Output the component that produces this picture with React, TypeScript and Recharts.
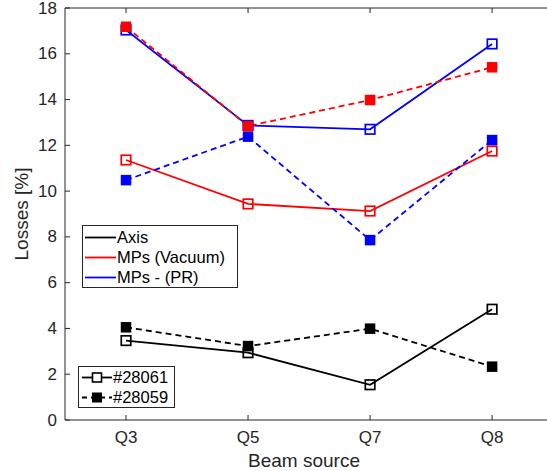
import React from 'react';
import { LineChart, Line, XAxis, YAxis, ReferenceLine } from 'recharts';

// Beam source positions along the x axis
const categories = ['Q3', 'Q5', 'Q7', 'Q8'];
const positions = [1, 2, 3, 4];
const yTicks = [0, 2, 4, 6, 8, 10, 12, 14, 16, 18];

// Losses [%], shot #28061 (solid, open squares) and #28059 (dashed, filled squares)
const axis28061 = [3.47, 2.94, 1.54, 4.84];
const axis28059 = [4.05, 3.23, 3.99, 2.33];
const vacuum28061 = [11.36, 9.44, 9.13, 11.75];
const vacuum28059 = [17.18, 12.84, 13.98, 15.41];
const pr28061 = [17.04, 12.87, 12.7, 16.43];
const pr28059 = [10.48, 12.38, 7.86, 12.23];

const data = positions.map((x, i) => ({
  x,
  axis28061: axis28061[i],
  axis28059: axis28059[i],
  vacuum28061: vacuum28061[i],
  vacuum28059: vacuum28059[i],
  pr28061: pr28061[i],
  pr28059: pr28059[i],
}));

const W = 547;
const H = 471;
const PLOT_LEFT = 65;
const PLOT_TOP = 8;
const PLOT_BOTTOM = 420;
const INK = '#262626';
const FONT = '"Liberation Sans", Arial, Helvetica, sans-serif';
const TICK_LEN = 5;
const LW = 1.8;

const square = (color: string, filled: boolean) => (props: any) => {
  const { cx, cy, index } = props;
  if (cx == null || cy == null) return null;
  const s = filled ? 10.5 : 9.5;
  return (
    <rect
      key={index}
      x={cx - s / 2}
      y={cy - s / 2}
      width={s}
      height={s}
      fill={filled ? color : 'none'}
      stroke={color}
      strokeWidth={filled ? 0 : 1.7}
    />
  );
};

const XTick = ({ x, payload }: any) => (
  <g>
    <line x1={x} x2={x} y1={PLOT_BOTTOM} y2={PLOT_BOTTOM - TICK_LEN} stroke={INK} />
    <line x1={x} x2={x} y1={PLOT_TOP} y2={PLOT_TOP + TICK_LEN} stroke={INK} />
    <text x={x} y={437} textAnchor="middle" dominantBaseline="central" fill={INK} fontSize={17} fontFamily={FONT}>
      {categories[payload.value - 1]}
    </text>
  </g>
);

const YTick = ({ y, payload }: any) => (
  <g>
    <line x1={PLOT_LEFT} x2={PLOT_LEFT + TICK_LEN} y1={y} y2={y} stroke={INK} />
    <text x={57} y={y} textAnchor="end" dominantBaseline="central" fill={INK} fontSize={17} fontFamily={FONT}>
      {payload.value}
    </text>
  </g>
);

const legendText: React.CSSProperties = {
  fontFamily: FONT,
  fontSize: 16.5,
  color: '#000',
  lineHeight: '20px',
  whiteSpace: 'nowrap',
};

const SeriesLegend = () => {
  const rows = [
    { label: 'Axis', color: '#000' },
    { label: 'MPs (Vacuum)', color: '#ff0000' },
    { label: 'MPs - (PR)', color: '#0000ff' },
  ];
  return (
    <div
      style={{
        position: 'absolute',
        left: 82,
        top: 225,
        width: 156,
        height: 63,
        boxSizing: 'border-box',
        border: `1px solid ${INK}`,
        background: '#fff',
        paddingTop: 1,
      }}
    >
      {rows.map((r) => (
        <div key={r.label} style={{ display: 'flex', alignItems: 'center', height: 20, ...legendText }}>
          <svg width={34} height={20} style={{ flex: 'none' }}>
            <line x1={2} x2={33} y1={10.5} y2={10.5} stroke={r.color} strokeWidth={LW} />
          </svg>
          <span>{r.label}</span>
        </div>
      ))}
    </div>
  );
};

const ShotLegend = () => {
  const rows = [
    { label: '#28061', dash: undefined, filled: false },
    { label: '#28059', dash: '5 4', filled: true },
  ];
  return (
    <div
      style={{
        position: 'absolute',
        left: 78,
        top: 366,
        width: 97,
        height: 42,
        boxSizing: 'border-box',
        border: `1px solid ${INK}`,
        background: '#fff',
      }}
    >
      {rows.map((r) => (
        <div key={r.label} style={{ display: 'flex', alignItems: 'center', height: 20, ...legendText }}>
          <svg width={34} height={20} style={{ flex: 'none' }}>
            <line x1={3} x2={33} y1={10.5} y2={10.5} stroke="#000" strokeWidth={LW} strokeDasharray={r.dash} />
            {r.filled ? (
              <rect x={13} y={5.5} width={10} height={10} fill="#000" />
            ) : (
              <rect x={13.5} y={6} width={9} height={9} fill="#fff" stroke="#000" strokeWidth={1.6} />
            )}
          </svg>
          <span>{r.label}</span>
        </div>
      ))}
    </div>
  );
};

export default function App() {
  return (
    <div style={{ position: 'absolute', left: 0, top: 0, width: W, height: H, background: '#fff', overflow: 'hidden' }}>
      <LineChart width={W} height={H} data={data} margin={{ top: PLOT_TOP, right: 0, bottom: 0, left: 0 }}>
        <XAxis
          dataKey="x"
          type="number"
          domain={[0.5, 4.45]}
          ticks={positions}
          height={H - PLOT_BOTTOM}
          tickLine={false}
          axisLine={{ stroke: INK }}
          tick={<XTick />}
          allowDataOverflow
        />
        <YAxis
          type="number"
          domain={[0, 18]}
          ticks={yTicks}
          width={PLOT_LEFT}
          tickLine={false}
          axisLine={{ stroke: INK }}
          tick={<YTick />}
          interval={0}
        />
        <ReferenceLine y={18} stroke={INK} />

        <Line dataKey="axis28061" stroke="#000" strokeWidth={LW} dot={square('#000', false)} activeDot={false} isAnimationActive={false} />
        <Line dataKey="axis28059" stroke="#000" strokeWidth={LW} strokeDasharray="6 4" dot={square('#000', true)} activeDot={false} isAnimationActive={false} />
        <Line dataKey="vacuum28061" stroke="#ff0000" strokeWidth={LW} dot={square('#ff0000', false)} activeDot={false} isAnimationActive={false} />
        <Line dataKey="pr28061" stroke="#0000ff" strokeWidth={LW} dot={square('#0000ff', false)} activeDot={false} isAnimationActive={false} />
        <Line dataKey="pr28059" stroke="#0000ff" strokeWidth={LW} strokeDasharray="6 4" dot={square('#0000ff', true)} activeDot={false} isAnimationActive={false} />
        <Line dataKey="vacuum28059" stroke="#ff0000" strokeWidth={LW} strokeDasharray="6 4" dot={square('#ff0000', true)} activeDot={false} isAnimationActive={false} />

        <text x={304} y={460} textAnchor="middle" dominantBaseline="central" fill={INK} fontSize={19} fontFamily={FONT}>
          Beam source
        </text>
        <text
          x={21}
          y={214}
          transform="rotate(-90 21 214)"
          textAnchor="middle"
          dominantBaseline="central"
          fill={INK}
          fontSize={19}
          fontFamily={FONT}
        >
          Losses [%]
        </text>
      </LineChart>
      <SeriesLegend />
      <ShotLegend />
    </div>
  );
}
